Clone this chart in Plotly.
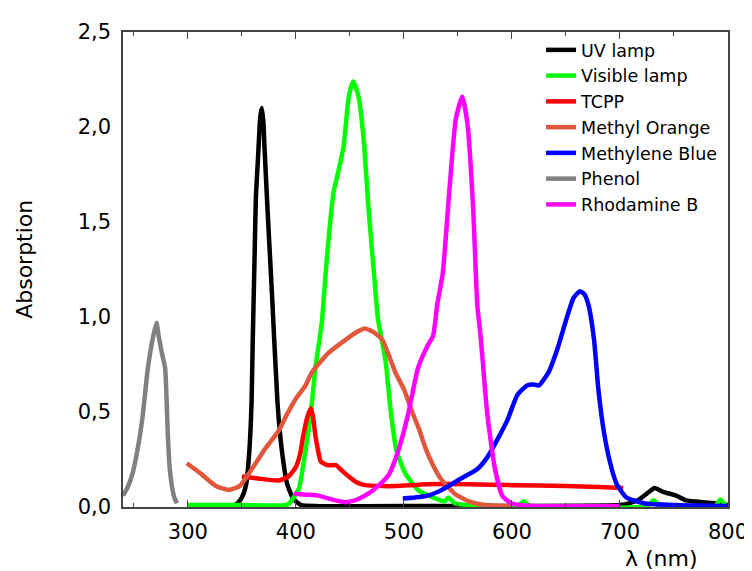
import plotly.graph_objects as go

# ---------------- data ----------------
uv_x = [300, 320, 340, 346, 350, 354, 357, 359, 360, 361, 362, 363, 365, 367, 368.5, 370, 371, 374, 378, 383, 387, 392, 398, 405, 420, 500, 600, 700, 709, 718, 727, 732, 740, 752, 761, 777, 789, 800]
uv_y = [0.005, 0.005, 0.005, 0.02, 0.05, 0.12, 0.30, 0.55, 0.85, 1.11, 1.37, 1.63, 1.84, 2.05, 2.10, 2.02, 1.89, 1.54, 1.11, 0.55, 0.30, 0.12, 0.04, 0.01, 0.005, 0.005, 0.005, 0.01, 0.02, 0.04, 0.08, 0.10, 0.08, 0.06, 0.035, 0.025, 0.02, 0.01]

vis_x = [300, 350, 390, 394, 398, 403, 409, 414, 418, 424, 429, 435, 437, 444, 449, 453, 458, 463, 467, 472, 476, 483, 487.5, 493, 501, 513, 529, 538, 541, 547, 560, 605, 611, 617, 725, 731, 737, 788, 793, 798]
vis_y = [0.01, 0.01, 0.01, 0.02, 0.05, 0.10, 0.30, 0.50, 0.73, 0.97, 1.33, 1.66, 1.71, 1.89, 2.16, 2.24, 2.16, 1.92, 1.59, 1.25, 0.99, 0.77, 0.52, 0.30, 0.18, 0.09, 0.045, 0.03, 0.05, 0.02, 0.01, 0.005, 0.03, 0.005, 0.005, 0.035, 0.005, 0.005, 0.04, 0.005]

tcpp_x = [350, 365, 384, 393, 400, 404, 407, 411, 414, 416, 418, 420.5, 423, 429, 437, 443, 449, 456, 464, 480, 492, 522, 560, 600, 650, 680, 703]
tcpp_y = [0.16, 0.15, 0.14, 0.16, 0.21, 0.28, 0.38, 0.48, 0.52, 0.47, 0.38, 0.30, 0.24, 0.22, 0.22, 0.19, 0.16, 0.13, 0.115, 0.11, 0.11, 0.12, 0.12, 0.115, 0.11, 0.105, 0.10]

mo_x = [299, 311, 326, 338, 348, 357, 372, 384, 392, 400, 409, 415, 430, 446, 456, 464, 472, 480, 492, 500, 507, 514, 520, 527, 534, 547, 560, 575, 600]
mo_y = [0.23, 0.18, 0.11, 0.09, 0.11, 0.18, 0.31, 0.40, 0.49, 0.57, 0.64, 0.71, 0.81, 0.88, 0.92, 0.94, 0.92, 0.88, 0.71, 0.62, 0.51, 0.41, 0.31, 0.22, 0.15, 0.07, 0.03, 0.01, 0.005]

mb_x = [499, 510, 522, 535, 553, 568, 577, 587, 596, 605, 614, 620, 625, 634, 642, 651, 657, 663, 667, 671, 676, 680, 685, 691, 697, 706, 722, 750, 800]
mb_y = [0.045, 0.05, 0.06, 0.09, 0.15, 0.20, 0.26, 0.36, 0.46, 0.59, 0.64, 0.645, 0.64, 0.71, 0.83, 1.00, 1.10, 1.136, 1.12, 1.06, 0.88, 0.62, 0.40, 0.23, 0.12, 0.05, 0.02, 0.01, 0.005]

ph_x = [240, 244, 249, 254, 258, 263, 268, 271, 273, 276, 279, 281.5, 283, 285, 287.5, 290]
ph_y = [0.06, 0.10, 0.18, 0.32, 0.47, 0.73, 0.90, 0.97, 0.90, 0.81, 0.73, 0.38, 0.22, 0.12, 0.05, 0.02]

rb_x = [398, 410, 421, 433, 446, 457, 467, 476, 486, 495, 504, 513, 522, 527, 531, 536, 542, 548, 554, 559, 564, 568, 571, 577, 584, 591, 599, 620, 700]
rb_y = [0.07, 0.065, 0.06, 0.04, 0.025, 0.04, 0.07, 0.11, 0.17, 0.30, 0.49, 0.73, 0.85, 0.90, 1.07, 1.23, 1.66, 2.04, 2.16, 2.01, 1.58, 1.06, 0.90, 0.50, 0.21, 0.06, 0.02, 0.005, 0.005]

series_names = ["UV lamp", "Visible lamp", "TCPP", "Methyl Orange", "Methylene Blue", "Phenol", "Rhodamine B"]
series_colors = ["#000000", "#00FF00", "#FF0000", "#E0573C", "#0000FF", "#808080", "#FF00FF"]
series_data = [(uv_x, uv_y), (vis_x, vis_y), (tcpp_x, tcpp_y), (mo_x, mo_y), (mb_x, mb_y), (ph_x, ph_y), (rb_x, rb_y)]

y_tickvals = [0, 0.5, 1.0, 1.5, 2.0, 2.5]
y_ticktext = ["0,0", "0,5", "1,0", "1,5", "2,0", "2,5"]
x_tickvals = [300, 400, 500, 600, 700, 800]

FONT = "DejaVu Sans, Liberation Sans, Arial, sans-serif"

fig = go.Figure()
for name, color, (xs, ys) in zip(series_names, series_colors, series_data):
    fig.add_trace(go.Scatter(x=xs, y=ys, mode="lines", name=name,
                             line=dict(color=color, width=4.5, shape="spline", smoothing=0.5)))

# the page body adds an 8px offset; margins compensate for it
fig.update_layout(
    width=752, height=571,
    margin=dict(l=115, r=28, t=17, b=72),
    paper_bgcolor="white", plot_bgcolor="white",
    font=dict(family=FONT, size=20, color="#000"),
    showlegend=True,
    legend=dict(x=0.691, y=1.0, xanchor="left", yanchor="top",
                bgcolor="rgba(0,0,0,0)", borderwidth=0,
                font=dict(family=FONT, size=17.5, color="#000"),
                tracegroupgap=0, itemwidth=30),
    xaxis=dict(range=[240, 800], tickvals=x_tickvals, ticks="inside", ticklen=7,
               tickwidth=1, tickcolor="#444", showline=True, linecolor="#444", linewidth=1.5,
               mirror="ticks", showgrid=False, zeroline=False, ticklabelstandoff=5,
               tickfont=dict(family=FONT, size=21, color="#000"),
               minor=dict(dtick=50, tick0=250, ticks="inside", ticklen=4, tickcolor="#444", showgrid=False)),
    yaxis=dict(range=[0, 2.5], tickvals=y_tickvals, ticktext=y_ticktext, ticks="",
               showline=True, linecolor="#444", linewidth=1.5, mirror=True,
               showgrid=False, zeroline=False, ticklabelstandoff=6,
               tickfont=dict(family=FONT, size=21, color="#000")),
    annotations=[
        dict(text="Absorption", xref="paper", yref="paper", x=-0.164, y=0.522,
             xanchor="center", yanchor="middle", textangle=-90, showarrow=False,
             font=dict(family=FONT, size=22, color="#000")),
        dict(text="λ (nm)", xref="paper", yref="paper", x=0.89, y=-0.108,
             xanchor="center", yanchor="middle", showarrow=False,
             font=dict(family=FONT, size=22, color="#000")),
    ],
)

fig.write_html("out.html")
